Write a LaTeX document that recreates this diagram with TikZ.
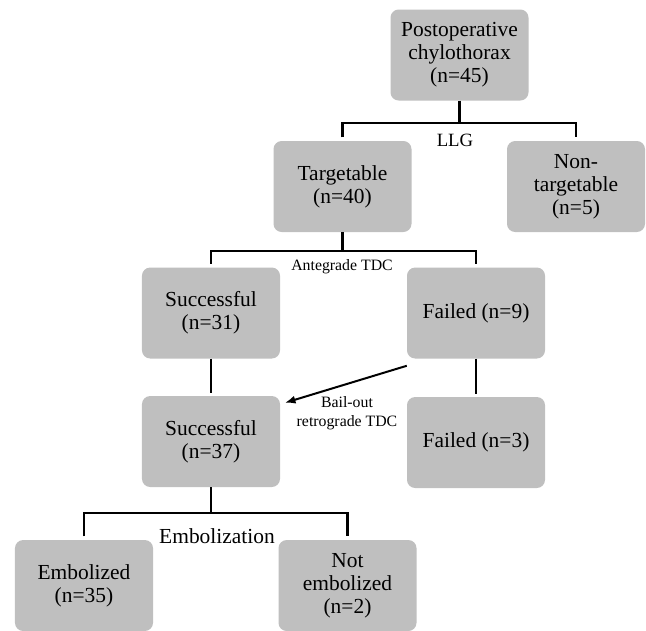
\documentclass[tikz,border=0pt]{standalone}
\usepackage{fontspec}
\setmainfont{Liberation Serif}
\usetikzlibrary{arrows.meta}
\definecolor{boxgray}{RGB}{191,191,191}
\begin{document}
\begin{tikzpicture}
  [x=0.03cm, y=-0.03cm,
  stage/.style={
    fill=boxgray,
    rectangle,
    rounded corners=7pt,
    inner sep=0pt,
    minimum width=4.14cm,
    minimum height=2.73cm,
    align=center,
    font=\fontsize{18.3}{19.6}\selectfont}, branch/.style={
    line width=2.4pt}, note/.style={
    align=center,
    inner sep=0pt,
    font=\fontsize{13.5}{16.5}\selectfont}, bailarrow/.style={
    line width=1.7pt,
    -{Latex[length=9pt,width=7pt]}}]

  \useasboundingbox (0,0) rectangle (646,630);

  \node [stage] at (459.5,55) (chylo) {Postoperative\\chylothorax\\(n=45)};
  \node [stage] at (342.5,186.5) (target) {Targetable\\(n=40)};
  \node [stage] at (576,186.5) (nontarget) {Non-\\targetable\\(n=5)};
  \node [stage] at (211,313) (antesucc) {Successful\\(n=31)};
  \node [stage] at (476,313) (antefail) {Failed (n=9)};
  \node [stage] at (211,441.5) (retrosucc) {Successful\\(n=37)};
  \node [stage] at (476,442.5) (retrofail) {Failed (n=3)};
  \node [stage] at (84,585.5) (embol) {Embolized\\(n=35)};
  \node [stage] at (347.5,585.5) (notembol) {Not\\embolized\\(n=2)};

  \node [note, font=\fontsize{16}{18}\selectfont] at (455,140) (llg) {LLG};
  \node [note] at (342,267) (ante) {Antegrade TDC};
  \node [note] at (347,413) (bail) {Bail-out\\retrograde TDC};
  \node [note, font=\fontsize{18.3}{19.6}\selectfont] at (217,536) (embolization) {Embolization};

  \coordinate (llgbar) at (459.5,123);
  \coordinate (antebar) at (342.5,251);
  \coordinate (embolbar) at (211,513);

  \draw [branch] (chylo) -- (llgbar);
  \draw [branch] ([yshift=3pt]target.north) |- (llgbar) -| ([yshift=3pt]nontarget.north);
  \draw [branch] (target) -- (antebar);
  \draw [branch] ([yshift=3pt]antesucc.north) |- (antebar) -| ([yshift=3pt]antefail.north);
  \draw [branch, shorten >=2pt] (antesucc) -- (retrosucc);
  \draw [branch, shorten >=2pt] (antefail) -- (retrofail);
  \draw [branch] (retrosucc) -- (embolbar);
  \draw [branch] ([yshift=3pt]embol.north) |- (embolbar) -| ([yshift=3pt]notembol.north);
  \draw [bailarrow] ([yshift=-6pt]antefail.south west) -- ([xshift=4pt,yshift=-6pt]retrosucc.north east);
\end{tikzpicture}
\end{document}
